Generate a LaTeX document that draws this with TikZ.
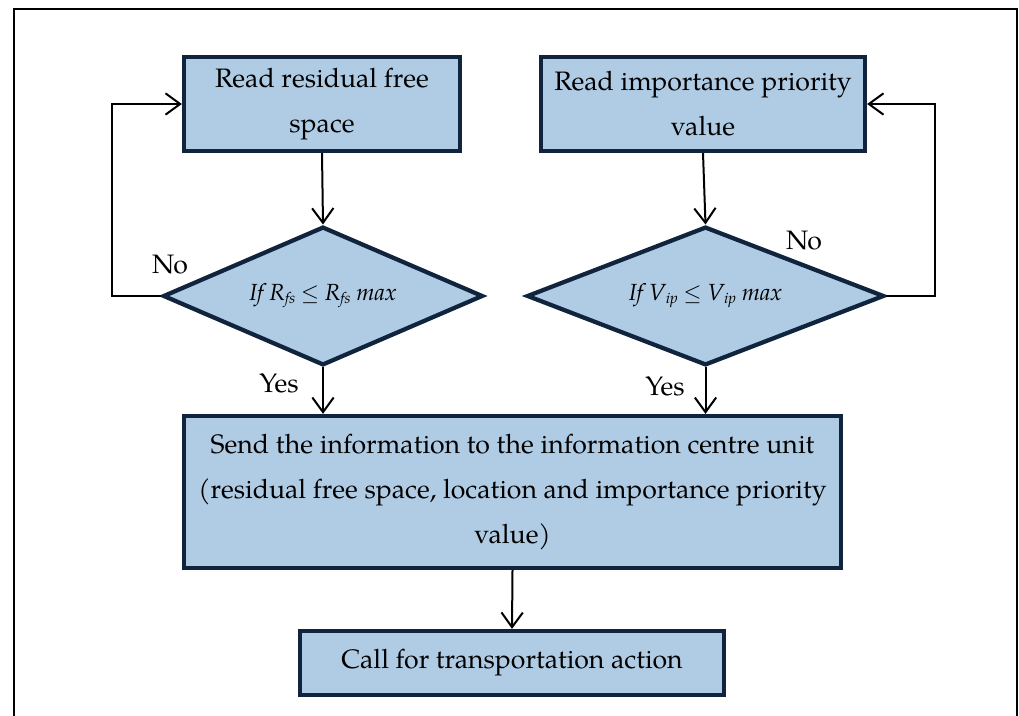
\documentclass[tikz,border=0pt]{standalone}
\usepackage{fontspec}
\setmainfont{TeX Gyre Pagella}
\usetikzlibrary{shapes.geometric,arrows.meta}
\definecolor{boxfill}{HTML}{B0CCE4}
\definecolor{boxline}{HTML}{10243E}
% small, slightly lowered subscript used in the conditions
\newcommand\lowsub[1]{\raisebox{-0.25ex}{\fontsize{11.5}{11.5}\selectfont #1}}

\begin{document}
\begin{tikzpicture}[x=0.75pt,y=-0.75pt,
  every node/.style={font=\fontsize{20}{33.75}\selectfont},
  proc/.style={draw=boxline, fill=boxfill, line width=3.2pt, rectangle,
    align=center, inner sep=0pt},
  decision/.style={draw=boxline, fill=boxfill, line width=3.2pt, diamond,
    inner sep=0pt, font=\fontsize{17.5}{21}\selectfont\itshape},
  flow/.style={line width=1.5pt,
    -{Straight Barb[length=11pt,width=16pt,line width=1.5pt]}},
  lbl/.style={inner sep=0pt}
]
\useasboundingbox (0,0) rectangle (1019,716);

% open frame round the chart
\draw[line width=1.6pt] (14,716) -- (14,9) -- (1017,9) -- (1017,716);

% process boxes
\node[proc, minimum width=207pt, minimum height=70.5pt] (read1) at (322,104)
  {Read residual free\\space};
\node[proc, minimum width=243pt, minimum height=70.5pt] (read2) at (703,104)
  {Read importance priority\\value};
\node[proc, minimum width=492.75pt, minimum height=114pt] (send) at (512.5,492)
  {Send the information to the information centre unit\\
   (residual free space, location and importance priority\\value)};
\node[proc, minimum width=318pt, minimum height=48pt] (call) at (512,663)
  {Call for transportation action};

% decisions
\node[decision, shape aspect=2.3, minimum width=240pt, minimum height=104pt]
  (d1) at (323,296) {If R\lowsub{fs} $\leq$ R\lowsub{fs} max};
\node[decision, shape aspect=2.6, minimum width=268pt, minimum height=104pt]
  (d2) at (705.5,296) {If V\lowsub{ip} $\leq$ V\lowsub{ip} max};

% connectors
\draw[flow] (read1.south) -- (d1.north);
\draw[flow] (read2.south) -- (d2.north);
\draw[flow] (d1.south) -- (d1.south |- send.north);
\draw[flow] (d2.south) -- (d2.south |- send.north);
\draw[flow] (send.south) -- (call.north);
\draw[flow] (d1.west) -- ++(-49,0) |- (read1.west);
\draw[flow] (d2.east) -- ++(49,0) |- (read2.east);

% branch labels
\node[lbl] (no1) at (170,265) {No};
\node[lbl] (no2) at (804,241) {No};
\node[lbl] (yes1) at (279,383) {Yes};
\node[lbl] (yes2) at (665,386) {Yes};
\end{tikzpicture}
\end{document}
